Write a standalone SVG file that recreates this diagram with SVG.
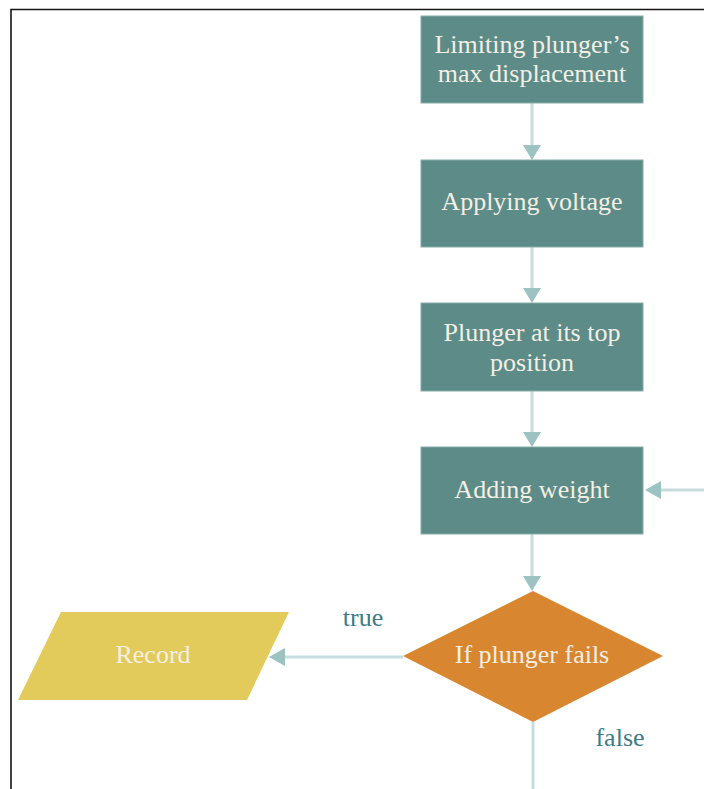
<svg xmlns="http://www.w3.org/2000/svg" width="704" height="789" viewBox="0 0 704 789">
<style>
.box{fill:#5d8b87;stroke:#86aca8;stroke-width:1}
.bt{font-family:"Liberation Serif",serif;font-size:26px;fill:#f3efe4;text-anchor:middle}
.lbl{font-family:"Liberation Serif",serif;font-size:26px;fill:#3d7b87;text-anchor:middle}
.ln{stroke:#c6dddd;stroke-width:3;fill:none}
.ah{fill:#9cc2c2}
</style>
<rect width="704" height="789" fill="#ffffff"/>
<path d="M11 789 V9.5 H704" fill="none" stroke="#151515" stroke-width="1.6"/>
<g id="connectors">
<line class="ln" x1="532" y1="103" x2="532" y2="146"/>
<polygon class="ah" points="523,145 541,145 532,160"/>
<line class="ln" x1="532" y1="247" x2="532" y2="289"/>
<polygon class="ah" points="523,288 541,288 532,303"/>
<line class="ln" x1="532" y1="391" x2="532" y2="433"/>
<polygon class="ah" points="523,432 541,432 532,447"/>
<line class="ln" x1="532" y1="534" x2="532" y2="577"/>
<polygon class="ah" points="523,576 541,576 532,591"/>
<line class="ln" x1="704" y1="490" x2="660" y2="490"/>
<polygon class="ah" points="661,481 661,499 645,490"/>
<line class="ln" x1="403" y1="657" x2="284" y2="657"/>
<polygon class="ah" points="285,648 285,666 269,657"/>
<line class="ln" x1="533" y1="722" x2="533" y2="789"/>
</g>
<g id="n1">
<rect class="box" x="421" y="16" width="222" height="87"/>
<text class="bt" x="532" y="53">Limiting plunger’s</text>
<text class="bt" x="532" y="82">max displacement</text>
</g>
<g id="n2">
<rect class="box" x="421" y="160" width="222" height="87"/>
<text class="bt" x="532" y="210">Applying voltage</text>
</g>
<g id="n3">
<rect class="box" x="421" y="303" width="222" height="88"/>
<text class="bt" x="532" y="341">Plunger at its top</text>
<text class="bt" x="532" y="371">position</text>
</g>
<g id="n4">
<rect class="box" x="421" y="447" width="222" height="87"/>
<text class="bt" x="532" y="498">Adding weight</text>
</g>
<g id="n5">
<polygon points="533,591 663,656 533,722 403,656" fill="#d98630"/>
<text class="bt" x="532" y="663">If plunger fails</text>
</g>
<g id="n6">
<polygon points="61,612 289,612 247,700 18,700" fill="#e2cb5a"/>
<text class="bt" x="153" y="663">Record</text>
</g>
<g id="labels">
<text class="lbl" x="363" y="626">true</text>
<text class="lbl" x="620" y="746">false</text>
</g>
</svg>
